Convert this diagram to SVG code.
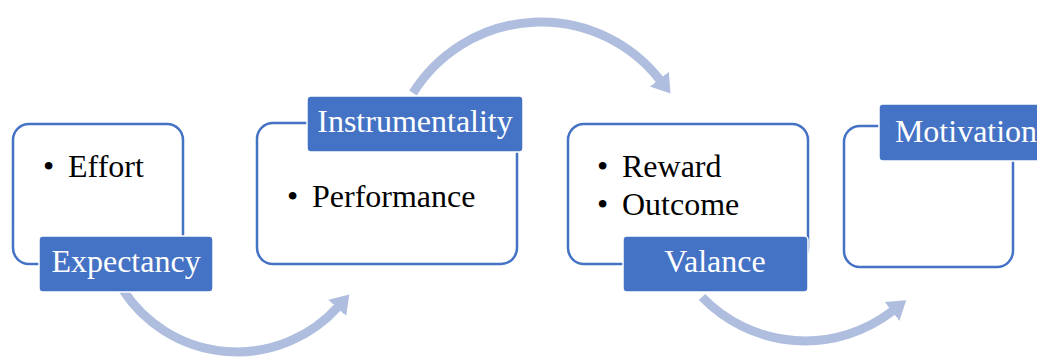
<svg xmlns="http://www.w3.org/2000/svg" width="1037" height="358" viewBox="0 0 1037 358">
  <style>
    .frame { fill: #ffffff; stroke: #4472C4; stroke-width: 2.5; }
    .tag { fill: #4472C4; stroke: #ffffff; stroke-width: 1.5; }
    .tag-text { font-family: "Liberation Serif", "Times New Roman", serif; font-size: 32px; fill: #ffffff; text-anchor: middle; }
    .body { font-family: "Liberation Serif", "Times New Roman", serif; font-size: 32px; fill: #000000; }
    .flow { fill: none; stroke: #AFBDDF; stroke-width: 9; }
  </style>
  <defs>
    <marker id="head" markerUnits="userSpaceOnUse" markerWidth="20" markerHeight="26" refX="1" refY="13" orient="auto">
      <path d="M0,1 L18,13 L0,25 z" fill="#AFBDDF"/>
    </marker>
  </defs>

  <!-- curved connectors between stages -->
  <g id="connectors">
    <path class="flow" d="M123,290 A136,136 0 0 0 337.9,307.1" marker-end="url(#head)"/>
    <path class="flow" d="M413,93 A151,151 0 0 1 660,80" marker-end="url(#head)"/>
    <path class="flow" d="M702,297 A143,143 0 0 0 892.8,310.8" marker-end="url(#head)"/>
  </g>

  <!-- Expectancy -->
  <g id="expectancy">
    <rect class="frame" x="13" y="124" width="170" height="140" rx="16"/>
    <text class="body" x="43" y="177">•</text>
    <text class="body" x="68" y="177">Effort</text>
    <rect class="tag" x="39" y="236" width="174" height="56" rx="4"/>
    <text class="tag-text" x="126" y="272">Expectancy</text>
  </g>

  <!-- Instrumentality -->
  <g id="instrumentality">
    <rect class="frame" x="257" y="123" width="260" height="141" rx="16"/>
    <text class="body" x="287" y="207">•</text>
    <text class="body" x="312" y="207">Performance</text>
    <rect class="tag" x="307" y="96" width="216" height="56" rx="4"/>
    <text class="tag-text" x="415" y="132">Instrumentality</text>
  </g>

  <!-- Valance -->
  <g id="valance">
    <rect class="frame" x="568" y="124" width="240" height="140" rx="16"/>
    <text class="body" x="597" y="177">•</text>
    <text class="body" x="622" y="177">Reward</text>
    <text class="body" x="597" y="215">•</text>
    <text class="body" x="622" y="215">Outcome</text>
    <rect class="tag" x="623" y="236" width="185" height="56" rx="4"/>
    <text class="tag-text" x="715" y="272">Valance</text>
  </g>

  <!-- Motivation -->
  <g id="motivation">
    <rect class="frame" x="844" y="126" width="169" height="141" rx="16"/>
    <rect class="tag" x="879" y="104" width="172" height="57" rx="4"/>
    <text class="tag-text" x="966" y="142">Motivation</text>
  </g>
</svg>
